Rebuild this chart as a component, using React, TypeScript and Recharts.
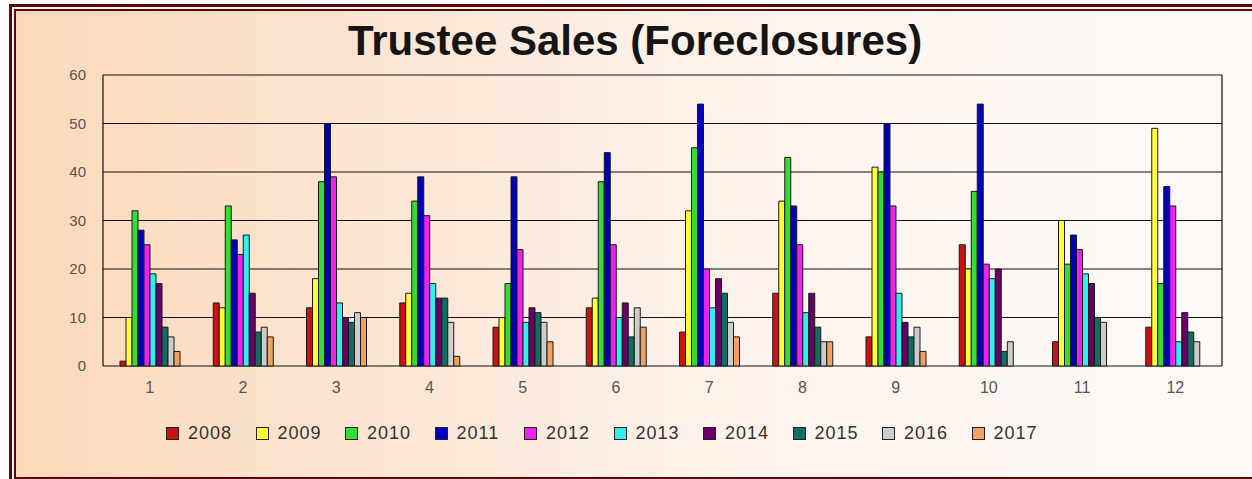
import { BarChart, Bar, XAxis, YAxis, CartesianGrid } from 'recharts';

const MONTHS = ['1', '2', '3', '4', '5', '6', '7', '8', '9', '10', '11', '12'];
const YEARS = ['2008', '2009', '2010', '2011', '2012', '2013', '2014', '2015', '2016', '2017'];
const COLORS = ['#cc1111', '#ffff33', '#33dd33', '#0000bb', '#ee22ee', '#33eeee', '#660066', '#116e60', '#cccccc', '#f0a060'];
const Y_TICKS = [0, 10, 20, 30, 40, 50, 60];

// monthly trustee sales per year
const S2008 = [1, 13, 12, 13, 8, 12, 7, 15, 6, 25, 5, 8];
const S2009 = [10, 12, 18, 15, 10, 14, 32, 34, 41, 20, 30, 49];
const S2010 = [32, 33, 38, 34, 17, 38, 45, 43, 40, 36, 21, 17];
const S2011 = [28, 26, 50, 39, 39, 44, 54, 33, 50, 54, 27, 37];
const S2012 = [25, 23, 39, 31, 24, 25, 20, 25, 33, 21, 24, 33];
const S2013 = [19, 27, 13, 17, 9, 10, 12, 11, 15, 18, 19, 5];
const S2014 = [17, 15, 10, 14, 12, 13, 18, 15, 9, 20, 17, 11];
const S2015 = [8, 7, 9, 14, 11, 6, 15, 8, 6, 3, 10, 7];
const S2016 = [6, 8, 11, 9, 9, 12, 9, 5, 8, 5, 9, 5];
const S2017 = [3, 6, 10, 2, 5, 8, 6, 5, 3, null, null, null];

const SERIES = [S2008, S2009, S2010, S2011, S2012, S2013, S2014, S2015, S2016, S2017];

const data = MONTHS.map((m, i) => {
  const row: Record<string, string | number | null> = { month: m };
  YEARS.forEach((y, k) => {
    row[y] = SERIES[k][i];
  });
  return row;
});

const FONT = 'Arial, "Liberation Sans", Helvetica, sans-serif';
const FRAME = '#5a0a0a';

export default function App() {
  return (
    <div
      style={{
        position: 'absolute',
        left: 0,
        top: 0,
        width: 1252,
        height: 479,
        overflow: 'hidden',
        background: '#fff',
        fontFamily: FONT,
      }}
    >
      <div
        style={{
          position: 'absolute',
          left: 9,
          top: 4,
          width: 1260,
          height: 490,
          border: `3px solid ${FRAME}`,
          background: '#fdf6f1',
        }}
      />
      <div
        style={{
          position: 'absolute',
          left: 14,
          top: 9,
          width: 1250,
          height: 466,
          border: `2px solid ${FRAME}`,
          background: 'linear-gradient(to right, #fbd8b9 0%, #fce6d4 30%, #fdf2ea 55%, #fdf7f3 80%, #fdf8f5 100%)',
        }}
      />
      <div
        style={{
          position: 'absolute',
          left: 0,
          width: 1270,
          top: 18,
          textAlign: 'center',
          fontSize: 42,
          lineHeight: '46px',
          fontWeight: 'bold',
          color: '#151515',
        }}
      >
        Trustee Sales (Foreclosures)
      </div>
      <div style={{ position: 'absolute', left: 0, top: 0 }}>
        <BarChart
          width={1252}
          height={479}
          data={data}
          margin={{ top: 75, right: 30, bottom: 83, left: 63 }}
          barSize={6}
          barGap={0}
        >
          <CartesianGrid
            stroke="#111"
            strokeWidth={1.2}
            verticalCoordinatesGenerator={({ offset }: any) => [offset.left, offset.left + offset.width]}
          />
          <XAxis
            dataKey="month"
            tickLine={false}
            axisLine={false}
            tickMargin={10}
            tick={{ fill: '#555', fontSize: 16, fontFamily: FONT }}
            height={30}
          />
          <YAxis
            domain={[0, 60]}
            ticks={Y_TICKS}
            tickLine={false}
            axisLine={false}
            tickMargin={11}
            width={40}
            tick={{ fill: '#555', fontSize: 15, fontFamily: FONT }}
          />
          {YEARS.map((y, k) => (
            <Bar key={y} dataKey={y} fill={COLORS[k]} stroke="#1a1a1a" strokeWidth={1} isAnimationActive={false} />
          ))}
        </BarChart>
      </div>
      <div
        style={{
          position: 'absolute',
          left: 166,
          top: 423,
          display: 'flex',
          alignItems: 'center',
          height: 20,
        }}
      >
        {YEARS.map((y, k) => (
          <div key={y} style={{ display: 'flex', alignItems: 'center', width: 89.5 }}>
            <span
              style={{
                display: 'inline-block',
                width: 11,
                height: 11,
                background: COLORS[k],
                border: '1.5px solid #222',
                marginRight: 9,
              }}
            />
            <span style={{ fontSize: 18, letterSpacing: 1, color: '#333' }}>{y}</span>
          </div>
        ))}
      </div>
    </div>
  );
}
